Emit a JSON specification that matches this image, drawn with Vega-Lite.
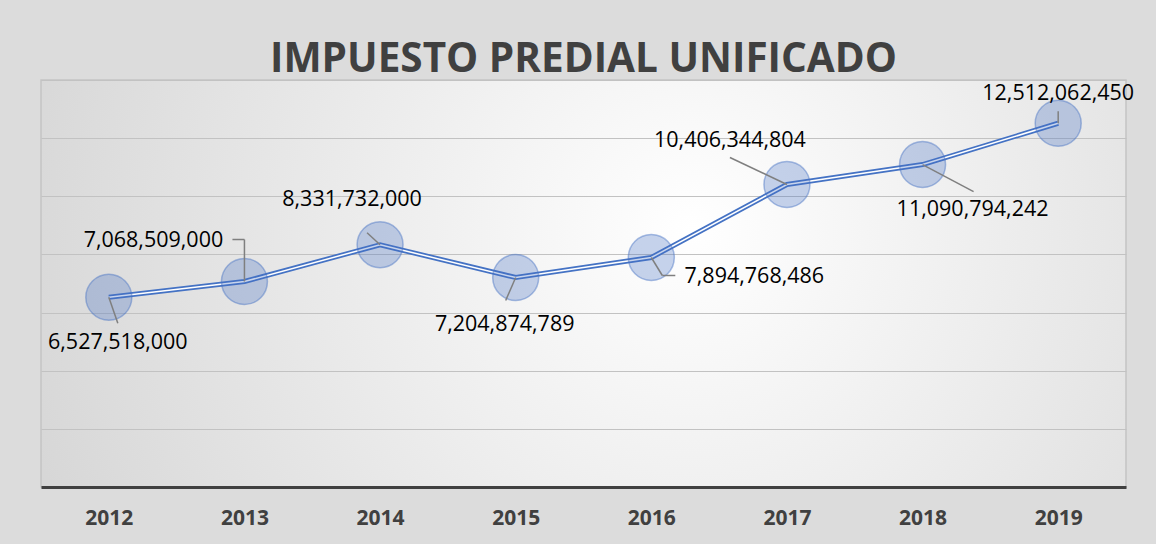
{
  "$schema": "https://vega.github.io/schema/vega-lite/v6.json",
  "width": 1085,
  "height": 407,
  "autosize": {"type": "none"},
  "padding": {"left": 41, "top": 80, "right": 30, "bottom": 57},
  "background": "#dcdcdc",
  "title": {
    "text": "IMPUESTO PREDIAL UNIFICADO",
    "font": "Open Sans",
    "fontSize": 40.5,
    "fontWeight": "bold",
    "color": "#404040",
    "anchor": "middle",
    "baseline": "alphabetic",
    "offset": -32
  },
  "config": {
    "view": {
      "stroke": "#c4c4c4",
      "strokeWidth": 1.5,
      "fill": {
        "gradient": "radial",
        "x1": 0.6, "y1": 0.45, "r1": 0,
        "x2": 0.6, "y2": 0.45, "r2": 0.75,
        "stops": [
          {"offset": 0, "color": "#ffffff"},
          {"offset": 1, "color": "#d0d0d0"}
        ]
      }
    },
    "text": {"font": "Open Sans", "fontSize": 21.5, "color": "#000000", "align": "center", "baseline": "middle"}
  },
  "data": {
    "values": [
      {"year": "2012", "value": 6527518000, "label": "6,527,518,000"},
      {"year": "2013", "value": 7068509000, "label": "7,068,509,000"},
      {"year": "2014", "value": 8331732000, "label": "8,331,732,000"},
      {"year": "2015", "value": 7204874789, "label": "7,204,874,789"},
      {"year": "2016", "value": 7894768486, "label": "7,894,768,486"},
      {"year": "2017", "value": 10406344804, "label": "10,406,344,804"},
      {"year": "2018", "value": 11090794242, "label": "11,090,794,242"},
      {"year": "2019", "value": 12512062450, "label": "12,512,062,450"}
    ]
  },
  "encoding": {
    "x": {
      "field": "year", "type": "ordinal",
      "scale": {"type": "point", "padding": 0.5},
      "axis": {
        "title": null, "ticks": false, "labelAngle": 0,
        "domainColor": "#404040", "domainWidth": 3,
        "labelFont": "Open Sans", "labelFontWeight": "bold", "labelFontSize": 21,
        "labelColor": "#404040", "labelPadding": 20
      }
    },
    "y": {
      "field": "value", "type": "quantitative",
      "scale": {"domain": [0, 14000000000], "nice": false},
      "axis": {
        "title": null, "labels": false, "ticks": false, "domain": false,
        "grid": true, "gridColor": "#c2c2c2", "gridWidth": 1.2,
        "values": [0, 2000000000, 4000000000, 6000000000, 8000000000, 10000000000, 12000000000, 14000000000]
      }
    }
  },
  "layer": [
    {"mark": {"type": "line", "color": "#4472c4", "strokeWidth": 5}},
    {"mark": {"type": "line", "color": "#ffffff", "strokeWidth": 1.5}},
    {"mark": {"type": "point", "shape": "circle", "filled": true, "size": 2116, "fill": "#4472c4", "fillOpacity": 0.3, "stroke": "#4472c4", "strokeOpacity": 0.45, "strokeWidth": 1.5}},
    {
      "transform": [{"filter": "datum.year == '2012'"}],
      "layer": [
        {"mark": {"type": "rule", "color": "#7f7f7f", "strokeWidth": 1.5, "x2Offset": 9, "y2Offset": 26},
         "encoding": {"x2": {"field": "year"}, "y2": {"field": "value"}}},
        {"mark": {"type": "text", "dx": 9, "dy": 46}, "encoding": {"text": {"field": "label"}}}
      ]
    },
    {
      "transform": [{"filter": "datum.year == '2013'"}],
      "layer": [
        {"mark": {"type": "rule", "color": "#7f7f7f", "strokeWidth": 1.5, "y2Offset": -42},
         "encoding": {"x2": {"field": "year"}, "y2": {"field": "value"}}},
        {"mark": {"type": "rule", "color": "#7f7f7f", "strokeWidth": 1.5, "yOffset": -42, "x2Offset": -12, "y2Offset": -42},
         "encoding": {"x2": {"field": "year"}, "y2": {"field": "value"}}},
        {"mark": {"type": "text", "dx": -91, "dy": -41}, "encoding": {"text": {"field": "label"}}}
      ]
    },
    {
      "transform": [{"filter": "datum.year == '2014'"}],
      "layer": [
        {"mark": {"type": "rule", "color": "#7f7f7f", "strokeWidth": 1.5, "x2Offset": -13, "y2Offset": -12},
         "encoding": {"x2": {"field": "year"}, "y2": {"field": "value"}}},
        {"mark": {"type": "text", "dx": -28, "dy": -45}, "encoding": {"text": {"field": "label"}}}
      ]
    },
    {
      "transform": [{"filter": "datum.year == '2015'"}],
      "layer": [
        {"mark": {"type": "rule", "color": "#7f7f7f", "strokeWidth": 1.5, "x2Offset": -10, "y2Offset": 23},
         "encoding": {"x2": {"field": "year"}, "y2": {"field": "value"}}},
        {"mark": {"type": "text", "dx": -11, "dy": 47}, "encoding": {"text": {"field": "label"}}}
      ]
    },
    {
      "transform": [{"filter": "datum.year == '2016'"}],
      "layer": [
        {"mark": {"type": "rule", "color": "#7f7f7f", "strokeWidth": 1.5, "x2Offset": 11, "y2Offset": 18},
         "encoding": {"x2": {"field": "year"}, "y2": {"field": "value"}}},
        {"mark": {"type": "rule", "color": "#7f7f7f", "strokeWidth": 1.5, "xOffset": 11, "yOffset": 18, "x2Offset": 24, "y2Offset": 18},
         "encoding": {"x2": {"field": "year"}, "y2": {"field": "value"}}},
        {"mark": {"type": "text", "dx": 103, "dy": 20}, "encoding": {"text": {"field": "label"}}}
      ]
    },
    {
      "transform": [{"filter": "datum.year == '2017'"}],
      "layer": [
        {"mark": {"type": "rule", "color": "#7f7f7f", "strokeWidth": 1.5, "x2Offset": -57, "y2Offset": -27},
         "encoding": {"x2": {"field": "year"}, "y2": {"field": "value"}}},
        {"mark": {"type": "text", "dx": -57, "dy": -43}, "encoding": {"text": {"field": "label"}}}
      ]
    },
    {
      "transform": [{"filter": "datum.year == '2018'"}],
      "layer": [
        {"mark": {"type": "rule", "color": "#7f7f7f", "strokeWidth": 1.5, "x2Offset": 51, "y2Offset": 27},
         "encoding": {"x2": {"field": "year"}, "y2": {"field": "value"}}},
        {"mark": {"type": "text", "dx": 50, "dy": 45}, "encoding": {"text": {"field": "label"}}}
      ]
    },
    {
      "transform": [{"filter": "datum.year == '2019'"}],
      "layer": [
        {"mark": {"type": "rule", "color": "#7f7f7f", "strokeWidth": 1.5, "y2Offset": -12},
         "encoding": {"x2": {"field": "year"}, "y2": {"field": "value"}}},
        {"mark": {"type": "text", "dx": 0, "dy": -29}, "encoding": {"text": {"field": "label"}}}
      ]
    }
  ]
}
